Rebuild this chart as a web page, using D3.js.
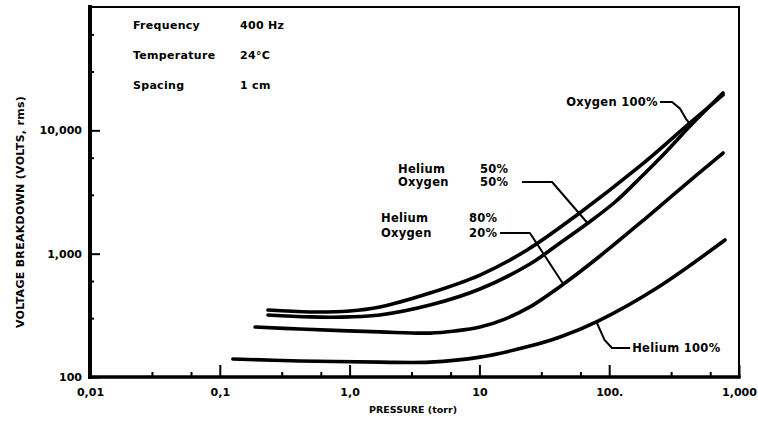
<!DOCTYPE html>
<html>
<head>
<meta charset="utf-8">
<script src="https://cdn.jsdelivr.net/npm/d3@7"></script>
<style>
  html, body { margin: 0; padding: 0; background: #fff; }
  svg { display: block; }
  text { font-family: "DejaVu Sans", sans-serif; font-weight: bold; fill: #000; }
</style>
</head>
<body>
<svg id="chart" width="758" height="423"></svg>
<script>
// Breakdown voltage vs. pressure for helium / oxygen mixtures (log-log)
const xTickValues = [0.01, 0.1, 1, 10, 100, 1000];
const xTickLabels = ["0,01", "0,1", "1,0", "10", "100.", "1,000"];
const yTickValues = [100, 1000, 10000];
const yTickLabels = ["100", "1,000", "10,000"];
const minorMultipliers = [3, 6];

const seriesNames = ["Oxygen 100%", "Helium 50% / Oxygen 50%", "Helium 80% / Oxygen 20%", "Helium 100%"];

// pressure in torr, breakdown voltage in volts rms
const pressureO2 = [0.235, 0.495, 1.0, 1.71, 4.16, 10.1, 23.3, 56.5, 173, 419, 753];
const voltsO2 = [349, 337, 343, 370, 480, 671, 1071, 2059, 5140, 11480, 19350];

const pressureHe50 = [0.235, 0.495, 1.0, 1.71, 4.16, 10.1, 24.5, 41.8, 68.7, 111, 173, 269, 427, 753];
const voltsHe50 = [318, 307, 307, 318, 383, 517, 824, 1221, 1773, 2624, 4108, 6551, 11040, 20090];

const pressureHe80 = [0.187, 0.415, 1.71, 4.16, 6.49, 10.1, 15.7, 24.5, 45.6, 85, 173, 351, 753];
const voltsHe80 = [254, 245, 232, 227, 236, 254, 295, 370, 578, 957, 1773, 3343, 6547];

const pressureHe100 = [0.126, 0.415, 1.71, 4.16, 10.1, 24.5, 41.8, 82, 233, 780];
const voltsHe100 = [140, 135, 132, 132, 145, 178, 211, 284, 527, 1290];

const conditionLabels = ["Frequency", "Temperature", "Spacing"];
const conditionValues = ["400 Hz", "24\u00B0C", "1 cm"];

const svg = d3.select("#chart");
const plot = { left: 90, right: 739, top: 7, bottom: 377 };

const x = d3.scaleLog().domain([0.01, 1000]).range([plot.left, plot.right]);
const y = d3.scaleLog().domain([100, 100000]).range([plot.bottom, plot.top]);

// minor ticks at 3x and 6x of every decade
const xMinor = [];
for (let d = 0.01; d < 1000; d *= 10) minorMultipliers.forEach(m => xMinor.push(d * m));
const yMinor = [];
for (let d = 100; d < 100000; d *= 10) minorMultipliers.forEach(m => yMinor.push(d * m));

// x axis: inward ticks
const gx = svg.append("g").attr("transform", `translate(0,${plot.bottom})`);
gx.call(d3.axisBottom(x).tickValues(xTickValues).tickSize(-12).tickPadding(11)
  .tickFormat((d, i) => xTickLabels[i]));
gx.append("g").call(d3.axisBottom(x).tickValues(xMinor).tickSize(-5).tickFormat(""));
gx.selectAll(".domain").remove();
gx.selectAll("line").attr("stroke", "#000").attr("stroke-width", 2);
gx.selectAll("text").attr("font-size", 11).attr("font-family", "DejaVu Sans").attr("font-weight", "bold");

// y axis: inward ticks
const gy = svg.append("g").attr("transform", `translate(${plot.left},0)`);
gy.call(d3.axisLeft(y).tickValues(yTickValues).tickSize(-10).tickPadding(8)
  .tickFormat((d, i) => yTickLabels[i]));
gy.append("g").call(d3.axisLeft(y).tickValues(yMinor).tickSize(-4).tickFormat(""));
gy.selectAll(".domain").remove();
gy.selectAll("line").attr("stroke", "#000").attr("stroke-width", 2);
gy.selectAll("text").attr("font-size", 11).attr("font-family", "DejaVu Sans").attr("font-weight", "bold");

// frame: heavy left/bottom axes, lighter top/right
const frame = svg.append("g").attr("stroke", "#000").attr("fill", "none").attr("stroke-linecap", "square");
frame.append("line").attr("x1", plot.left).attr("x2", plot.right).attr("y1", plot.top).attr("y2", plot.top).attr("stroke-width", 2);
frame.append("line").attr("x1", plot.right).attr("x2", plot.right).attr("y1", plot.top).attr("y2", plot.bottom).attr("stroke-width", 2);
frame.append("line").attr("x1", plot.left).attr("x2", plot.left).attr("y1", plot.top).attr("y2", plot.bottom).attr("stroke-width", 4);
frame.append("line").attr("x1", plot.left).attr("x2", plot.right).attr("y1", plot.bottom).attr("y2", plot.bottom).attr("stroke-width", 3.5);

// axis titles
svg.append("text")
  .attr("x", 413).attr("y", 413)
  .attr("text-anchor", "middle").attr("font-size", 9.5)
  .text("PRESSURE (torr)");
svg.append("text")
  .attr("transform", "translate(24,212) rotate(-90)")
  .attr("text-anchor", "middle").attr("font-size", 11).attr("letter-spacing", 0.3)
  .text("VOLTAGE BREAKDOWN (VOLTS, rms)");

// curves
const series = [
  { name: seriesNames[0], p: pressureO2, v: voltsO2 },
  { name: seriesNames[1], p: pressureHe50, v: voltsHe50 },
  { name: seriesNames[2], p: pressureHe80, v: voltsHe80 },
  { name: seriesNames[3], p: pressureHe100, v: voltsHe100 }
];
const line = d3.line().x(d => x(d[0])).y(d => y(d[1])).curve(d3.curveCatmullRom.alpha(0.5));
svg.append("g").selectAll("path").data(series).join("path")
  .attr("d", s => line(s.p.map((p, i) => [p, s.v[i]])))
  .attr("fill", "none").attr("stroke", "#000").attr("stroke-width", 3.6)
  .attr("stroke-linecap", "round").attr("stroke-linejoin", "round");

// leader lines from labels to curves (pressure, volts)
const leaderO2 = [[246, 16980], [305, 16980], [351, 15000], [390, 12400], [410, 11600]];
const leaderHe50 = [[21.3, 3811], [36.3, 3811], [68, 1773]];
const leaderHe80 = [[14.4, 1471], [24.5, 1471], [44.1, 570]];
const leaderHe100 = [[145, 172], [105, 172], [92, 200], [80, 278]];
const leader = d3.line().x(d => x(d[0])).y(d => y(d[1]));
svg.append("g").selectAll("path").data([leaderO2, leaderHe50, leaderHe80, leaderHe100]).join("path")
  .attr("d", leader).attr("fill", "none").attr("stroke", "#000").attr("stroke-width", 2)
  .attr("stroke-linejoin", "round");

// curve labels
const lbl = svg.append("g").attr("font-size", 11.5).attr("letter-spacing", 0.3);
lbl.append("text").attr("x", x(leaderO2[0][0]) - 2).attr("y", y(leaderO2[0][1]) + 4)
  .attr("text-anchor", "end").text("Oxygen 100%");

const he50x = x(leaderHe50[0][0]), he50y = y(leaderHe50[0][1]);
lbl.append("text").attr("x", he50x - 124).attr("y", he50y - 9).text("Helium");
lbl.append("text").attr("x", he50x - 42).attr("y", he50y - 9).text("50%");
lbl.append("text").attr("x", he50x - 124).attr("y", he50y + 4).text("Oxygen");
lbl.append("text").attr("x", he50x - 42).attr("y", he50y + 4).text("50%");

const he80x = x(leaderHe80[0][0]), he80y = y(leaderHe80[0][1]);
lbl.append("text").attr("x", he80x - 119).attr("y", he80y - 11).text("Helium");
lbl.append("text").attr("x", he80x - 31).attr("y", he80y - 11).text("80%");
lbl.append("text").attr("x", he80x - 119).attr("y", he80y + 4).text("Oxygen");
lbl.append("text").attr("x", he80x - 31).attr("y", he80y + 4).text("20%");

lbl.append("text").attr("x", x(leaderHe100[0][0]) + 2).attr("y", y(leaderHe100[0][1]) + 4)
  .text("Helium 100%");

// test conditions
const cond = svg.append("g").attr("font-size", 11).attr("letter-spacing", 0.3);
conditionLabels.forEach((t, i) => {
  cond.append("text").attr("x", plot.left + 43).attr("y", 29 + i * 30).text(t);
  cond.append("text").attr("x", plot.left + 150).attr("y", 29 + i * 30).text(conditionValues[i]);
});
</script>
</body>
</html>
